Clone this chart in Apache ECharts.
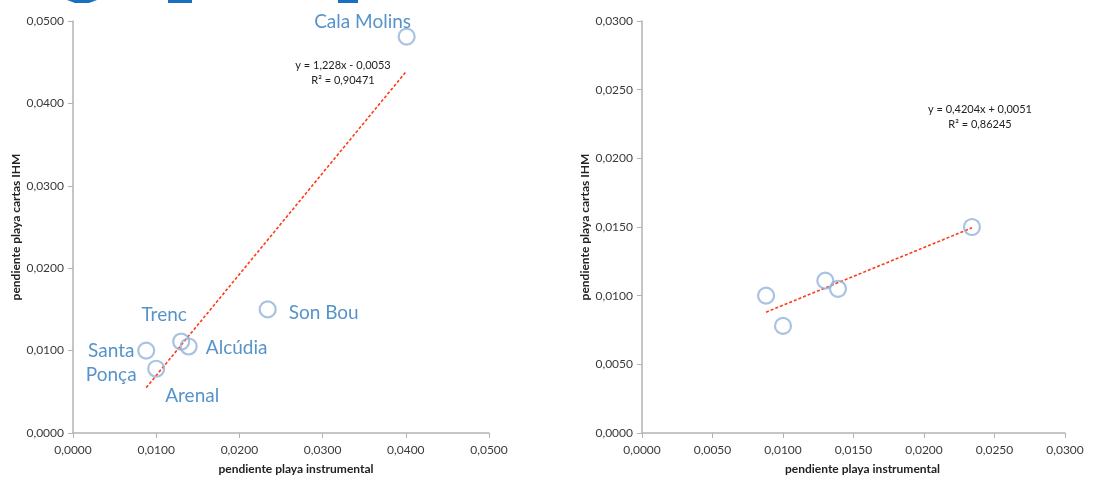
<!DOCTYPE html>
<html>
<head>
<meta charset="utf-8">
<script src="https://cdn.jsdelivr.net/npm/echarts@6/dist/echarts.min.js"></script>
<style>html,body{margin:0;padding:0;background:#fff;width:1100px;height:480px;overflow:hidden}#c{position:absolute;left:0;top:0;width:1100px;height:480px}</style>
</head>
<body>
<div id="c"></div>
<script>
// ---- data ----
var beachNames = ['Cala Molins', 'Son Bou', 'Trenc', 'Alcúdia', 'Santa\nPonça', 'Arenal'];
var instrumental = [0.0401, 0.0234, 0.0130, 0.0139, 0.0088, 0.0100];
var cartasIHM   = [0.0481, 0.0150, 0.0111, 0.0105, 0.0100, 0.0078];
// right panel (without Cala Molins)
var instrumental2 = [0.0234, 0.0130, 0.0139, 0.0088, 0.0100];
var cartasIHM2    = [0.0150, 0.0111, 0.0105, 0.0100, 0.0078];
var fit1 = {slope: 1.228, intercept: -0.0053, xFrom: 0.0088, xTo: 0.0401, eq: 'y = 1,228x - 0,0053', r2: 'R² = 0,90471'};
var fit2 = {slope: 0.4204, intercept: 0.0051, xFrom: 0.0088, xTo: 0.0234, eq: 'y = 0,4204x + 0,0051', r2: 'R² = 0,86245'};
var xTicks1 = [0, 0.01, 0.02, 0.03, 0.04, 0.05];
var yTicks1 = [0, 0.01, 0.02, 0.03, 0.04, 0.05];
var xTicks2 = [0, 0.005, 0.01, 0.015, 0.02, 0.025, 0.03];
var yTicks2 = [0, 0.005, 0.01, 0.015, 0.02, 0.025, 0.03];
var xTitle = 'pendiente playa instrumental';
var yTitle = 'pendiente playa cartas IHM';

// ---- label placement (pixel offsets from marker) ----
var labelOffsets = {
  'Cala Molins': [-44, -15],
  'Son Bou': [56, 3],
  'Trenc': [-17, -27],
  'Alcúdia': [48, 1],
  'Santa\nPonça': [-35, 12],
  'Arenal': [36, 27]
};

var FONT = 'Lato, "Open Sans", sans-serif';
var fmt = function (v) { return v.toFixed(4).replace('.', ','); };
var axisColor = '#b3b3b3';

function xAxis(idx, ticks, padLeft) {
  return {
    type: 'value', gridIndex: idx, min: ticks[0], max: ticks[ticks.length - 1],
    interval: ticks[1] - ticks[0],
    name: xTitle, nameLocation: 'middle', nameGap: 30,
    nameTextStyle: {fontFamily: FONT, fontSize: 12, fontWeight: 'bold', color: '#222', padding: [0, 0, 0, padLeft]},
    axisLine: {show: true, lineStyle: {color: axisColor, width: 1.5}},
    axisTick: {show: true, length: 5, lineStyle: {color: axisColor}},
    axisLabel: {formatter: fmt, fontFamily: FONT, fontSize: 12, color: '#3a3a3a', margin: 11},
    splitLine: {show: false}
  };
}
function yAxis(idx, ticks, gap) {
  return {
    type: 'value', gridIndex: idx, min: ticks[0], max: ticks[ticks.length - 1],
    interval: ticks[1] - ticks[0],
    name: yTitle, nameLocation: 'middle', nameGap: gap, nameRotate: 90,
    nameTextStyle: {fontFamily: FONT, fontSize: 12, fontWeight: 'bold', color: '#222'},
    axisLine: {show: true, lineStyle: {color: axisColor, width: 1.5}},
    axisTick: {show: true, length: 5, lineStyle: {color: axisColor}},
    axisLabel: {formatter: fmt, fontFamily: FONT, fontSize: 12, color: '#3a3a3a', margin: 9},
    splitLine: {show: false}
  };
}

var pts1 = instrumental.map(function (x, i) {
  var name = beachNames[i];
  return {value: [x, cartasIHM[i]], name: name,
    label: {offset: labelOffsets[name]}};
});
var pts2 = instrumental2.map(function (x, i) { return [x, cartasIHM2[i]]; });

function fitLine(f) {
  return [[f.xFrom, f.slope * f.xFrom + f.intercept], [f.xTo, f.slope * f.xTo + f.intercept]];
}

var markerStyle = {color: 'rgba(0,0,0,0)', borderColor: '#93b3db', borderWidth: 2.2};
var fitStyle = {color: '#ff3a1a', width: 1.6, type: [3, 2]};
var eqStyle = {fontFamily: FONT, fontSize: 11, fill: '#222', align: 'center', verticalAlign: 'middle', lineHeight: 15};

var chart = echarts.init(document.getElementById('c'), null, {renderer: 'canvas', width: 1100, height: 480});
chart.setOption({
  backgroundColor: '#fff',
  animation: false,
  grid: [
    {left: 73, top: 21, width: 416, height: 416},
    {left: 642, top: 21, width: 423, height: 416}
  ],
  xAxis: [xAxis(0, xTicks1, 30), xAxis(1, xTicks2, 18)],
  yAxis: [yAxis(0, yTicks1, 47), yAxis(1, yTicks2, 48)],
  series: [
    {type: 'line', xAxisIndex: 0, yAxisIndex: 0, data: fitLine(fit1), symbol: 'none', lineStyle: fitStyle, z: 2},
    {type: 'scatter', xAxisIndex: 0, yAxisIndex: 0, data: pts1, symbol: 'circle', symbolSize: 16,
      itemStyle: markerStyle, z: 3,
      label: {show: true, position: 'inside', formatter: function (p) { return p.name; },
        fontFamily: FONT, fontSize: 19, color: '#2a78bd', lineHeight: 24, align: 'center'}},
    {type: 'line', xAxisIndex: 1, yAxisIndex: 1, data: fitLine(fit2), symbol: 'none', lineStyle: fitStyle, z: 2},
    {type: 'scatter', xAxisIndex: 1, yAxisIndex: 1, data: pts2, symbol: 'circle', symbolSize: 16,
      itemStyle: markerStyle, z: 3}
  ],
  graphic: [
    {type: 'text', x: 343, y: 73, style: Object.assign({text: fit1.eq + '\n' + fit1.r2}, eqStyle)},
    {type: 'text', x: 980, y: 117, style: Object.assign({text: fit2.eq + '\n' + fit2.r2}, eqStyle)},
    // cut-off blue shapes at the top edge of the picture
    {type: 'polygon', shape: {points: [[67, 0], [97, 0], [89, 3], [75, 3]]}, style: {fill: '#1a70c0'}},
    {type: 'rect', shape: {x: 168, y: 0, width: 24, height: 3}, style: {fill: '#1a70c0'}},
    {type: 'rect', shape: {x: 338, y: 0, width: 20, height: 3}, style: {fill: '#1a70c0'}}
  ]
});
</script>
</body>
</html>
